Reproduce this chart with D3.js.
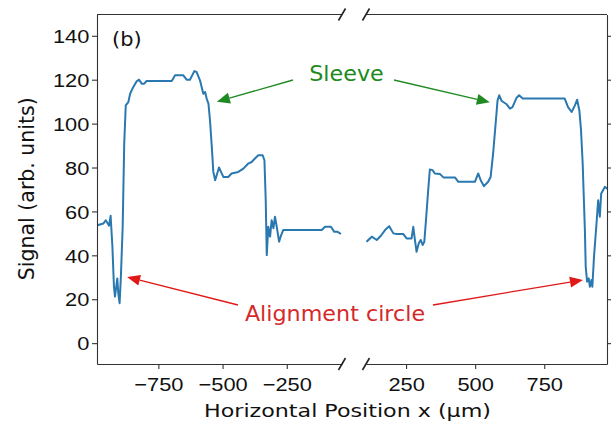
<!DOCTYPE html>
<html>
<head>
<meta charset="utf-8">
<script src="https://cdn.jsdelivr.net/npm/d3@7"></script>
<style>
	body { margin: 0; background: #fff; }
	svg { display: block; font-family: "DejaVu Sans", sans-serif; }
	.axis path, .axis line { stroke: #333; stroke-width: 1.1; }
	.axis text { font-size: 18.5px; fill: #111; }
</style>
</head>
<body>
<div id="chart"></div>
<script>
	// signal trace, left half of the scan (µm, arb. units)
	var leftX = [-995, -984, -964, -955, -947, -942, -936, -929, -923, -919, -914, -910, -906, -901, -896,
		-889, -883, -877, -867, -860, -848, -834, -825, -815, -805, -796, -698, -685, -653, -640, -627,
		-610, -601, -588, -575, -568, -562, -555, -549, -542, -536, -529, -523, -514, -506, -497, -478,
		-465, -439, -419, -400, -387, -374, -361, -344, -337, -332, -328, -322, -315, -309, -302, -296,
		-289, -280, -274, -264, -244, -114, -101, -78, -65, -52, -39];
	var leftY = [53.5, 53.8, 54.5, 56, 54.5, 53.5, 58, 43.9, 25.7, 21.2, 25.7, 29.5, 22.7, 18.2, 30.3,
		53, 90.9, 108.3, 109.8, 113.6, 116.6, 119.4, 120, 118.2, 118.2, 119.4, 119.4, 122, 122, 120, 120,
		123.9, 123.5, 119.7, 113.6, 114.4, 111.4, 109.1, 101.5, 89.4, 78, 74.2, 76.5, 80, 78, 75.7, 75.7,
		77.3, 78, 79.5, 81.8, 82.5, 84.1, 85.6, 85.6, 83.3, 65.1, 40.1, 53, 48.5, 56, 52.3, 57.6,
		53, 46.2, 48.5, 51.5, 51.5, 51.5, 53, 53, 50.7, 50.7, 49.7];

	// signal trace, right half of the scan
	var rightX = [107, 126, 144, 158, 174, 189, 204, 216, 240, 252, 270, 276, 282, 288, 296, 303, 310,
		316, 322, 330, 336, 346, 354, 373, 385, 427, 439, 499, 511, 520, 532, 547, 556, 565, 575, 581,
		587, 596, 614, 626, 635, 650, 659, 672, 824, 836, 849, 861, 869, 877, 883, 889, 893, 897, 900,
		905, 911, 915, 921, 924, 930, 939, 945, 951, 956, 963, 969, 977, 990];
	var rightY = [46.2, 48.5, 47, 48.8, 51.5, 53.3, 50, 49.7, 49.7, 47.7, 47.7, 53, 47, 41.6, 45.5, 47, 44.7,
		46.2, 56, 69.7, 79.1, 78.8, 77.3, 77, 75.5, 75.5, 73.5, 73.5, 77.3, 74.2, 71.5, 73.5, 75.7, 86.4, 101.5, 110.6,
		112.9, 110.3, 108.8, 106.8, 107.5, 111.8, 112.9, 111.4, 111.4, 107.5, 105.3, 108.3, 110.9, 106, 97, 81.8, 66.6, 51.5, 34.8,
		28, 29.5, 25.7, 28.8, 25.7, 39.4, 54.5, 65.1, 57.6, 68.2, 69.7, 71.2, 70.5, 72];

	var yTicks = [0, 20, 40, 60, 80, 100, 120, 140];
	var leftTicks = [-750, -500, -250];
	var rightTicks = [250, 500, 750];

	// annotation targets, data coords
	var sleeveTargets = [{side: "left", x: -522, y: 110}, {side: "right", x: 553, y: 109.7}];
	var circleTargets = [{side: "left", x: -872, y: 30.1}, {side: "right", x: 890, y: 28.8}];

	var width = 611;
	var height = 424;
	var yTop = 14.5, yBot = 364;
	var lineColor = "#2a78b0";
	var green = "#1f8a22";
	var red = "#d42a2a";

	var y = d3.scaleLinear().domain([-9.5, 149.7]).range([yBot, yTop]);
	var xL = d3.scaleLinear().domain([-989, -35]).range([97, 342]);
	var xR = d3.scaleLinear().domain([105, 977]).range([366, 607]);

	var fmt = function(d) { return (d < 0 ? "\u2212" : "") + Math.abs(d); };

	var svg = d3.select("#chart").append("svg")
		.attr("width", width)
		.attr("height", height);

	var defs = svg.append("defs");
	defs.append("clipPath").attr("id", "clipL").append("rect")
		.attr("x", 97).attr("y", yTop).attr("width", 342-97).attr("height", yBot-yTop);
	defs.append("clipPath").attr("id", "clipR").append("rect")
		.attr("x", 366).attr("y", yTop).attr("width", 607-366).attr("height", yBot-yTop);

	var line = function(xs) {
		return d3.line().x(function(d) { return xs(d[0]); }).y(function(d) { return y(d[1]); });
	};

	svg.append("path")
		.datum(d3.zip(leftX, leftY))
		.attr("clip-path", "url(#clipL)")
		.attr("d", line(xL))
		.style("fill", "none")
		.style("stroke", lineColor)
		.style("stroke-width", 2)
		.style("stroke-linejoin", "round");

	svg.append("path")
		.datum(d3.zip(rightX, rightY))
		.attr("clip-path", "url(#clipR)")
		.attr("d", line(xR))
		.style("fill", "none")
		.style("stroke", lineColor)
		.style("stroke-width", 2)
		.style("stroke-linejoin", "round");

	// axes
	var gy = svg.append("g").attr("class", "axis")
		.attr("transform", "translate(97,0)")
		.call(d3.axisLeft(y).tickValues(yTicks).tickSize(5).tickSizeOuter(0).tickPadding(1.5));
	gy.selectAll("text").attr("dy", "0.36em").attr("transform", "scale(1.18,1)");

	var gxL = svg.append("g").attr("class", "axis")
		.attr("transform", "translate(0," + yBot + ")")
		.call(d3.axisBottom(xL).tickValues(leftTicks).tickFormat(fmt).tickSize(5).tickSizeOuter(0).tickPadding(9));
	gxL.selectAll("text").attr("transform", "scale(1.18,1)");

	var gxR = svg.append("g").attr("class", "axis")
		.attr("transform", "translate(0," + yBot + ")")
		.call(d3.axisBottom(xR).tickValues(rightTicks).tickFormat(fmt).tickSize(5).tickSizeOuter(0).tickPadding(9));
	gxR.selectAll("text").attr("transform", "scale(1.18,1)");

	var gyR = svg.append("g").attr("class", "axis")
		.attr("transform", "translate(607,0)")
		.call(d3.axisRight(y).tickValues(yTicks).tickSize(5).tickSizeOuter(0));
	gyR.selectAll("text").remove();

	// top spines
	svg.append("line").attr("x1", 97).attr("x2", 342).attr("y1", yTop).attr("y2", yTop)
		.style("stroke", "#333").style("stroke-width", 1.1);
	svg.append("line").attr("x1", 366).attr("x2", 607).attr("y1", yTop).attr("y2", yTop)
		.style("stroke", "#333").style("stroke-width", 1.1);

	// break marks
	[342, 366].forEach(function(bx) {
		[yTop, yBot].forEach(function(by) {
			svg.append("line")
				.attr("x1", bx-3.5).attr("y1", by+6)
				.attr("x2", bx+3.5).attr("y2", by-6)
				.style("stroke", "#222").style("stroke-width", 1.6);
		});
	});

	// scaled text helper
	var label = function(txt, cx, cy, size, sx, color, anchor) {
		svg.append("g")
			.attr("transform", "translate(" + cx + "," + cy + ") scale(" + sx + ",1)")
			.append("text")
			.text(txt)
			.style("font-size", size + "px")
			.style("fill", color)
			.style("text-anchor", anchor || "middle");
	};

	label("(b)", 112, 46, 19, 1.1, "#111", "start");
	label("Horizontal Position x (\u00b5m)", 347.5, 416.5, 18.5, 1.2, "#111");

	svg.append("text")
		.text("Signal (arb. units)")
		.attr("transform", "translate(34," + 188.7 + ") rotate(-90)")
		.style("text-anchor", "middle")
		.style("font-size", "20.5px")
		.style("fill", "#111");

	// annotations
	var arrow = function(x1, y1, x2, y2, color) {
		var ang = Math.atan2(y2-y1, x2-x1);
		var hl = 13, hw = 5.5;
		var bx = x2 - hl*Math.cos(ang), by = y2 - hl*Math.sin(ang);
		svg.append("line")
			.attr("x1", x1).attr("y1", y1).attr("x2", bx).attr("y2", by)
			.style("stroke", color).style("stroke-width", 1.3);
		var px = -Math.sin(ang)*hw, py = Math.cos(ang)*hw;
		svg.append("path")
			.attr("d", "M" + x2 + "," + y2 + "L" + (bx+px) + "," + (by+py) + "L" + (bx-px) + "," + (by-py) + "Z")
			.style("fill", color);
	};

	label("Sleeve", 346.5, 81, 21, 1.06, green);
	sleeveTargets.forEach(function(t) {
		var xs = t.side == "left" ? xL : xR;
		arrow(t.side == "left" ? 293 : 394, 80, xs(t.x), y(t.y), green);
	});

	label("Alignment circle", 335, 320.7, 21, 1.06, red);
	circleTargets.forEach(function(t) {
		var xs = t.side == "left" ? xL : xR;
		arrow(t.side == "left" ? 238 : 433, 305, xs(t.x), y(t.y), "#e01818");
	});
</script>
</body>
</html>
